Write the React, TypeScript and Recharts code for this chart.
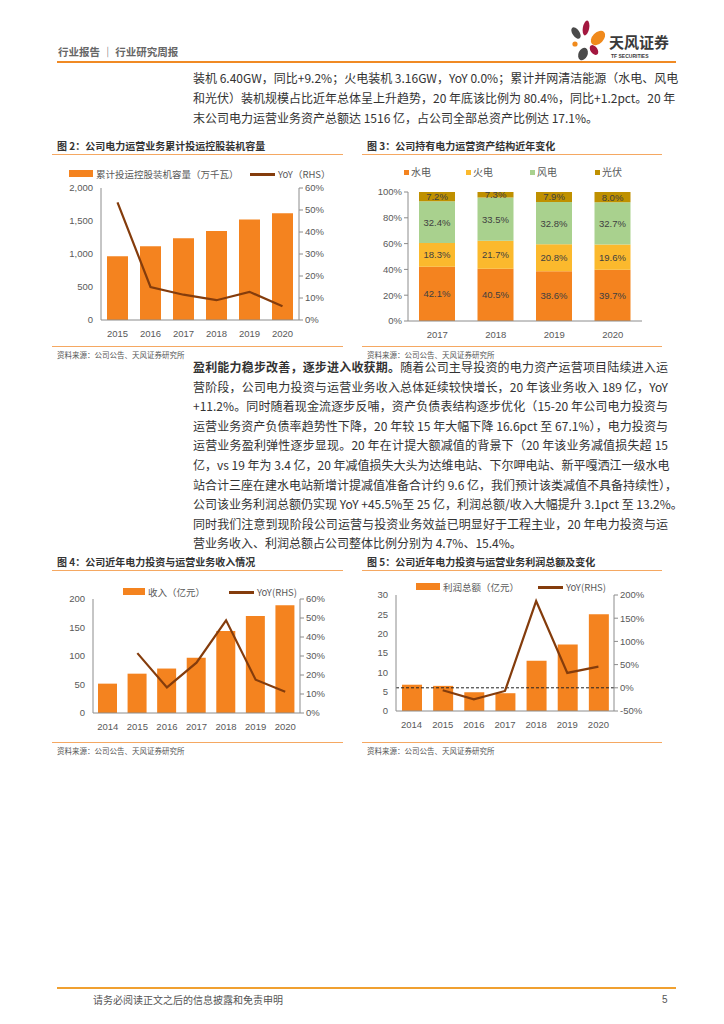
import React from "react"
import { ComposedChart, BarChart, Bar, Line, XAxis, YAxis, ReferenceLine, LabelList } from "recharts"

// 图2 累计投运控股装机容量
const capYears = ["2015", "2016", "2017", "2018", "2019", "2020"]
const capValues = [967, 1118, 1239, 1350, 1521, 1617]
const capYoy = [53.5, 15.0, 11.5, 9.0, 12.8, 6.2]

// 图3 电力运营资产结构
const mixYears = ["2017", "2018", "2019", "2020"]
const hydro = [42.1, 40.5, 38.6, 39.7]
const thermal = [18.3, 21.7, 20.8, 19.6]
const wind = [32.4, 33.5, 32.8, 32.7]
const solar = [7.2, 7.3, 7.9, 8.0]

// 图4 收入 / 图5 利润总额
const finYears = ["2014", "2015", "2016", "2017", "2018", "2019", "2020"]
const revValues = [51.5, 69, 78, 97, 144, 170, 189]
const revYoy = [null, 31.5, 13.5, 26.5, 48.8, 17.5, 11.2]
const profitValues = [6.8, 6.5, 4.85, 4.6, 13.0, 17.2, 25.0]
const profitYoy = [null, -5.3, -24.8, -6.8, 187, 32, 45.5]

const para1 = [
  "装机 6.40GW，同比+9.2%；火电装机 3.16GW，YoY 0.0%；累计并网清洁能源（水电、风电",
  "和光伏）装机规模占比近年总体呈上升趋势，20 年底该比例为 80.4%，同比+1.2pct。20 年",
  "末公司电力运营业务资产总额达 1516 亿，占公司全部总资产比例达 17.1%。",
]
const para2 = [
  "随着公司主导投资的电力资产运营项目陆续进入运",
  "营阶段，公司电力投资与运营业务收入总体延续较快增长，20 年该业务收入 189 亿，YoY",
  "+11.2%。同时随着现金流逐步反哺，资产负债表结构逐步优化（15-20 年公司电力投资与",
  "运营业务资产负债率趋势性下降，20 年较 15 年大幅下降 16.6pct 至 67.1%），电力投资与",
  "运营业务盈利弹性逐步显现。20 年在计提大额减值的背景下（20 年该业务减值损失超 15",
  "亿，vs 19 年为 3.4 亿，20 年减值损失大头为达维电站、下尔呷电站、新平嘎洒江一级水电",
  "站合计三座在建水电站新增计提减值准备合计约 9.6 亿，我们预计该类减值不具备持续性），",
  "公司该业务利润总额仍实现 YoY +45.5%至 25 亿，利润总额/收入大幅提升 3.1pct 至 13.2%。",
  "同时我们注意到现阶段公司运营与投资业务效益已明显好于工程主业，20 年电力投资与运",
  "营业务收入、利润总额占公司整体比例分别为 4.7%、15.4%。",
]
const para2Bold = "盈利能力稳步改善，逐步进入收获期。"

const FONT = '"Noto Sans CJK SC", "Noto Sans", sans-serif'
const NUM = '"Liberation Sans", Arial, sans-serif'
const ORANGE = "#F4831F"
const BROWN = "#843C0C"
const AXIS = "#8c8c8c"
const TXT = "#595959"
const tick = { fontSize: 9.5, fill: TXT, fontFamily: NUM, fontWeight: 400 }

const abs = (left: number, top: number, extra: any = {}) => ({ position: "absolute" as const, left, top, ...extra })

function TextLine({ y, text, last, children }: any) {
  return (
    <div
      style={abs(193, y - 7, {
        width: 475,
        height: 14,
        lineHeight: "14px",
        fontSize: 12,
        color: "#333",
        whiteSpace: "nowrap",
        textAlign: "justify",
        textAlignLast: last ? "left" : "justify",
      })}
    >
      {children}
      {text}
    </div>
  )
}

function Frame({ x, x2, titleY, bottomY, title }: any) {
  return (
    <>
      <div style={abs(x + 5, titleY - 7, { fontSize: 10, fontWeight: 700, color: "#333", lineHeight: "14px", whiteSpace: "nowrap" })}>{title}</div>
      <div style={abs(x, titleY + 8, { width: x2 - x, height: 1, background: "#F5A862" })} />
      <div style={abs(x, bottomY, { width: x2 - x, height: 1, background: "#F5A862" })} />
      <div style={abs(x + 5, bottomY + 4, { fontSize: 7.5, color: "#555", lineHeight: "10px", whiteSpace: "nowrap" })}>资料来源：公司公告、天风证券研究所</div>
    </>
  )
}

function BarLegend({ x, y, w, barText, lineX, lineText }: any) {
  return (
    <>
      <div style={abs(x, y - 4, { width: w, height: 7, background: ORANGE })} />
      <div style={abs(x + w + 3, y - 7, { fontSize: 9.5, color: TXT, lineHeight: "14px", whiteSpace: "nowrap" })}>{barText}</div>
      <div style={abs(lineX, y - 1, { width: 25, height: 2.5, background: BROWN })} />
      <div style={abs(lineX + 28, y - 7, { fontSize: 9.5, color: TXT, lineHeight: "14px", whiteSpace: "nowrap" })}>{lineText}</div>
    </>
  )
}

function BarLine({ left, top, width, height, years, bars, yoy, lw, rw, lDomain, lTicks, rDomain, rTicks, barSize, lFmt, zeroLine }: any) {
  const rows = years.map((y: string, i: number) => ({ year: y, bar: bars[i], yoy: yoy[i] }))
  return (
    <div style={abs(left, top)}>
      <ComposedChart width={width} height={height} data={rows} margin={{ top: 8, right: 0, bottom: 0, left: 0 }}>
        <XAxis dataKey="year" tick={tick} axisLine={{ stroke: AXIS }} tickLine={false} interval={0} height={20} tickMargin={4} />
        <YAxis yAxisId="l" width={lw} domain={lDomain} ticks={lTicks} tick={tick} axisLine={{ stroke: AXIS }} tickLine={false} tickFormatter={lFmt} interval={0} />
        <YAxis yAxisId="r" orientation="right" width={rw} domain={rDomain} ticks={rTicks} tick={tick} axisLine={{ stroke: AXIS }} tickLine={{ stroke: AXIS }} tickSize={4} tickFormatter={(v: number) => `${v}%`} interval={0} />
        <Bar yAxisId="l" dataKey="bar" fill={ORANGE} barSize={barSize} isAnimationActive={false} />
        {zeroLine && <ReferenceLine yAxisId="r" y={0} stroke="#222" strokeDasharray="3 2" />}
        <Line yAxisId="r" dataKey="yoy" stroke={BROWN} strokeWidth={2.2} dot={false} isAnimationActive={false} />
      </ComposedChart>
    </div>
  )
}

export default function App() {
  const mixRows = mixYears.map((y, i) => ({ year: y, hydro: hydro[i], thermal: thermal[i], wind: wind[i], solar: solar[i] }))
  const mixSeries = [
    { key: "hydro", name: "水电", color: "#F4831F", lx: 404 },
    { key: "thermal", name: "火电", color: "#FBB92D", lx: 466 },
    { key: "wind", name: "风电", color: "#A9D18E", lx: 530 },
    { key: "solar", name: "光伏", color: "#BF9000", lx: 595 },
  ]
  const pct = (v: any) => `${Number(v).toFixed(1)}%`

  return (
    <div lang="zh-CN" style={abs(0, 0, { width: 724, height: 1024, background: "#fff", fontFamily: FONT, overflow: "hidden" })}>
      {/* 页眉 */}
      <div style={abs(58, 44, { fontSize: 10.5, fontWeight: 700, color: "#666", lineHeight: "16px", whiteSpace: "nowrap" })}>行业报告 ｜ 行业研究周报</div>
      <div style={abs(57, 61, { width: 619, height: 2, background: "#F08A24" })} />
      <svg style={abs(566, 18)} width={42} height={44} viewBox="566 18 42 44">
        <ellipse cx={576} cy={33} rx={3.5} ry={6.5} transform="rotate(-35 576 33)" fill="#4a4a4a" />
        <ellipse cx={586} cy={28} rx={3.2} ry={7.5} transform="rotate(10 586 28)" fill="#A3173F" />
        <ellipse cx={598} cy={38} rx={5.5} ry={8.5} transform="rotate(45 598 38)" fill="#F08A1C" />
        <circle cx={575} cy={44} r={2.6} fill="#F08A1C" />
        <ellipse cx={583} cy={54} rx={4.5} ry={6.5} transform="rotate(25 583 54)" fill="#4a4a4a" />
        <ellipse cx={594} cy={50} rx={3.5} ry={5.5} transform="rotate(-35 594 50)" fill="#A3173F" />
      </svg>
      <div style={abs(609, 33, { fontSize: 15, fontWeight: 700, color: "#3a3a3a", lineHeight: "18px", whiteSpace: "nowrap" })}>天风证券</div>
      <div style={abs(611, 53, { fontSize: 5, fontWeight: 700, color: "#3a3a3a", lineHeight: "7px", whiteSpace: "nowrap", fontFamily: NUM })}>TF SECURITIES</div>

      {/* 正文 1 */}
      {para1.map((t, i) => (
        <TextLine key={i} y={78 + i * 19.8} text={t} last={i === para1.length - 1} />
      ))}

      {/* 图 2 */}
      <Frame x={52} x2={343} titleY={146} bottomY={346} title="图 2：公司电力运营业务累计投运控股装机容量" />
      <BarLegend x={69} y={174} w={24} barText="累计投运控股装机容量（万千瓦）" lineX={250} lineText="YoY（RHS）" />
      <BarLine
        left={52} top={180} width={287} height={160}
        years={capYears} bars={capValues} yoy={capYoy}
        lw={49} rw={40}
        lDomain={[0, 2000]} lTicks={[0, 500, 1000, 1500, 2000]}
        rDomain={[0, 60]} rTicks={[0, 10, 20, 30, 40, 50, 60]}
        barSize={21} lFmt={(v: number) => v.toLocaleString("en-US")}
      />

      {/* 图 3 */}
      <Frame x={362} x2={662} titleY={146} bottomY={346} title="图 3：公司持有电力运营资产结构近年变化" />
      {mixSeries.map((s) => (
        <React.Fragment key={s.key}>
          <div style={abs(s.lx, 170, { width: 5, height: 5, background: s.color })} />
          <div style={abs(s.lx + 7, 165, { fontSize: 10, color: TXT, lineHeight: "14px" })}>{s.name}</div>
        </React.Fragment>
      ))}
      <div style={abs(362, 184)}>
        <BarChart width={280} height={157} data={mixRows} margin={{ top: 8, right: 0, bottom: 0, left: 0 }}>
          <XAxis dataKey="year" tick={tick} axisLine={{ stroke: AXIS }} tickLine={false} height={20} tickMargin={4} />
          <YAxis width={46} domain={[0, 100]} allowDataOverflow ticks={[0, 20, 40, 60, 80, 100]} tick={tick} axisLine={{ stroke: AXIS }} tickLine={{ stroke: AXIS }} tickSize={4} tickFormatter={(v: number) => `${v}%`} interval={0} />
          {mixSeries.map((s) => (
            <Bar key={s.key} dataKey={s.key} stackId="a" fill={s.color} barSize={36} isAnimationActive={false}>
              <LabelList dataKey={s.key} position="center" formatter={pct} style={{ fontSize: 9.5, fill: "#404040", fontFamily: NUM, fontWeight: 400 }} />
            </Bar>
          ))}
        </BarChart>
      </div>

      {/* 正文 2 */}
      {para2.map((t, i) => (
        <TextLine key={i} y={367 + i * 19.6} text={t} last={i === para2.length - 1}>
          {i === 0 ? <b>{para2Bold}</b> : null}
        </TextLine>
      ))}

      {/* 图 4 */}
      <Frame x={52} x2={343} titleY={562} bottomY={742} title="图 4：公司近年电力投资与运营业务收入情况" />
      <BarLegend x={123} y={592} w={22} barText="收入（亿元）" lineX={229} lineText="YoY(RHS)" />
      <BarLine
        left={52} top={591} width={288} height={142}
        years={finYears} bars={revValues} yoy={revYoy}
        lw={41} rw={40}
        lDomain={[0, 200]} lTicks={[0, 50, 100, 150, 200]}
        rDomain={[0, 60]} rTicks={[0, 10, 20, 30, 40, 50, 60]}
        barSize={19}
      />

      {/* 图 5 */}
      <Frame x={362} x2={662} titleY={562} bottomY={742} title="图 5：公司近年电力投资与运营业务利润总额及变化" />
      <BarLegend x={416} y={587} w={24} barText="利润总额（亿元）" lineX={538} lineText="YoY(RHS)" />
      <BarLine
        left={362} top={587} width={296} height={144}
        years={finYears} bars={profitValues} yoy={profitYoy}
        lw={34} rw={44}
        lDomain={[0, 30]} lTicks={[0, 5, 10, 15, 20, 25, 30]}
        rDomain={[-50, 200]} rTicks={[-50, 0, 50, 100, 150, 200]}
        barSize={20} zeroLine
      />

      {/* 页脚 */}
      <div style={abs(57, 987, { width: 619, height: 2, background: "#F0A030" })} />
      <div style={abs(93, 993, { fontSize: 10, color: "#555", lineHeight: "14px", whiteSpace: "nowrap" })}>请务必阅读正文之后的信息披露和免责申明</div>
      <div style={abs(662, 993, { fontSize: 10, color: "#555", lineHeight: "14px", fontFamily: NUM })}>5</div>
    </div>
  )
}
